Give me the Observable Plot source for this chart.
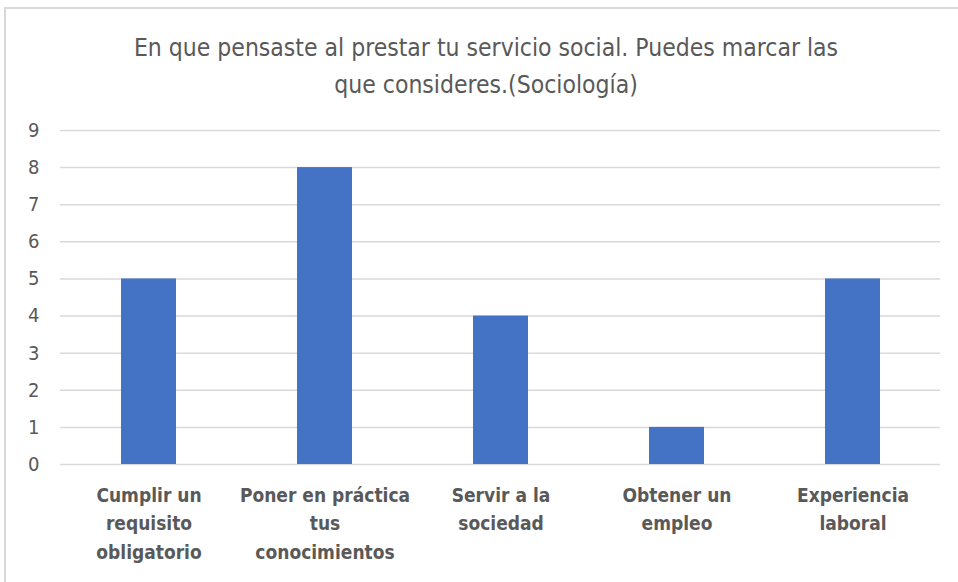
<!DOCTYPE html>
<html><head><meta charset="utf-8">
<script src="https://cdn.jsdelivr.net/npm/d3@7"></script>
<script src="https://cdn.jsdelivr.net/npm/@observablehq/plot@0.6"></script>
<style>
body{margin:0;background:#fff;}
#wrap{position:absolute;left:4px;top:7px;width:980px;height:600px;border:2px solid #d9d9d9;box-sizing:border-box;}
#chart{position:absolute;left:0;top:0;width:958px;}
#title{height:110px;box-sizing:border-box;padding-top:29px;text-align:center;font-family:"DejaVu Sans Condensed",sans-serif;font-size:24.5px;line-height:37px;color:#595959;padding-left:14px;}
</style></head>
<body>
<div id="wrap"></div>
<div id="chart"><div id="title">En que pensaste al prestar tu servicio social. Puedes marcar las<br>que consideres.(Sociología)</div></div>
<script>
const categories = ["Cumplir un requisito obligatorio","Poner en práctica tus conocimientos","Servir a la sociedad","Obtener un empleo","Experiencia laboral"];
const tickLabels = ["Cumplir un\nrequisito\nobligatorio","Poner en práctica\ntus\nconocimientos","Servir a la\nsociedad","Obtener un\nempleo","Experiencia\nlaboral"];
const values = [5, 8, 4, 1, 5];
const yTicks = [0,1,2,3,4,5,6,7,8,9];

const data = categories.map((c,i)=>({cat:c, value:values[i]}));
const font = '"DejaVu Sans Condensed",sans-serif';
const plot = Plot.plot({
  width: 958, height: 472,
  marginLeft: 60, marginRight: 18, marginTop: 20, marginBottom: 118,
  style: {fontFamily: font, background: "transparent"},
  x: {domain: categories, paddingInner: 0.6875, paddingOuter: 0.34375, label: null},
  y: {domain: [0, 9], ticks: yTicks, label: null},
  marks: [
    Plot.gridY(yTicks, {stroke: "#d9d9d9", strokeOpacity: 1, strokeWidth: 1.5}),
    Plot.barY(data, {x: "cat", y: "value", fill: "#4472c4"}),
    Plot.axisY(yTicks, {tickSize: 0, tickPadding: 21, fontSize: 20, fill: "#595959", label: null}),
    Plot.axisX({tickSize: 0, tickPadding: 17, fontSize: 19, fontWeight: "bold", fill: "#595959", lineHeight: 1.5, label: null,
      tickFormat: (d) => tickLabels[categories.indexOf(d)]})
  ]
});
document.getElementById("chart").appendChild(plot);
</script>
</body></html>
